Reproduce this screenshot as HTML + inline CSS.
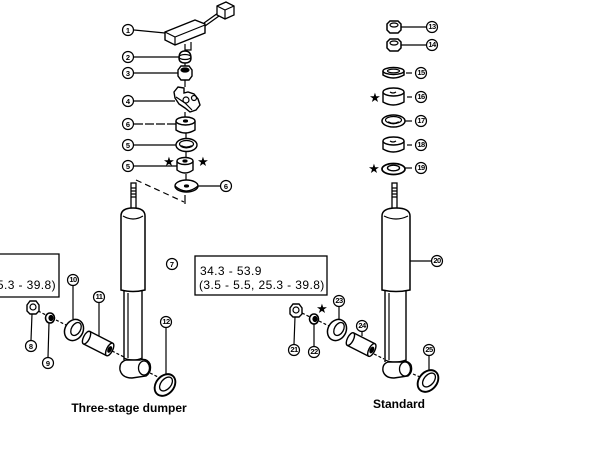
<!DOCTYPE html>
<html><head><meta charset="utf-8"><style>
html,body{margin:0;padding:0;background:#fff;}
svg{display:block;}
text{font-family:"Liberation Sans",sans-serif;fill:#000;}
.c text{font-size:7.5px;font-weight:bold;}
</style></head><body>
<svg width="606" height="459" viewBox="0 0 606 459" xmlns="http://www.w3.org/2000/svg">
<rect width="606" height="459" fill="#fff"/>
<g fill="none" stroke="#000" stroke-width="1.2">

<!-- ===== LEFT TOP STACK ===== -->
<path d="M165,32 L195,20 L205,24 L205,33 L175,45 L165,40 Z" fill="#fff" stroke-width="1.4"/>
<path d="M165,32 L175,37 L205,25 M175,37 L175,45"/>
<path d="M185,44 L185,50 L191,50 L191,42"/>
<path d="M204,23 L218,13 M205,26 L219,16" stroke-width="1.3"/>
<path d="M217,6 L226,2 L234,6 L234,15 L225,19 L217,15 Z" fill="#fff" stroke-width="1.3"/>
<path d="M217,6 L225,10 L234,6 M225,10 L225,19"/>
<line x1="134" y1="30" x2="165" y2="33"/>
<path d="M179,58 Q179,51 185,51 Q191,51 191,58 Q191,63 185,63 Q179,63 179,58 Z" fill="#fff" stroke-width="1.4"/>
<ellipse cx="185" cy="57" rx="6" ry="2.5"/>
<line x1="134" y1="57" x2="179" y2="57"/>
<path d="M178,70 L181,66 L189,66 L192,70 L192,76 L189,80 L181,80 L178,76 Z" fill="#fff" stroke-width="1.4"/>
<ellipse cx="185" cy="70" rx="4" ry="2" fill="#000"/>
<line x1="134" y1="73" x2="178" y2="73"/>
<path d="M174,92 L178,87 L184,88 L184,93 L188,92 L194,94 L198,99 L200,105 L196,110 L190,112 L185,108 L179,104 L175,98 Z" fill="#fff" stroke-width="1.4"/>
<circle cx="186" cy="100" r="3"/>
<circle cx="194" cy="98" r="2.5"/>
<path d="M176,97 L185,103 L192,110"/>
<line x1="134" y1="101" x2="175" y2="101"/>
<path d="M176,121 L176,130 Q185,136 195,130 L195,121" fill="#fff" stroke-width="1.4"/>
<ellipse cx="185.5" cy="121" rx="9.5" ry="4" fill="#fff" stroke-width="1.4"/>
<ellipse cx="185.5" cy="121" rx="2" ry="1" fill="#000"/>
<line x1="134" y1="124" x2="176" y2="124" stroke-dasharray="9,2"/>
<ellipse cx="186.5" cy="145" rx="10.5" ry="6.5" fill="#fff" stroke-width="1.4"/>
<ellipse cx="186.5" cy="144" rx="7" ry="3.5"/>
<path d="M181,146 Q186,149 192,146" stroke-width="2"/>
<line x1="134" y1="145" x2="176" y2="145"/>
<path d="M177,161 L177,170 Q185,176 193,170 L193,161" fill="#fff" stroke-width="1.4"/>
<ellipse cx="185" cy="161" rx="8" ry="3.5" fill="#fff" stroke-width="1.4"/>
<ellipse cx="185" cy="161" rx="2" ry="1" fill="#000"/>
<line x1="134" y1="166" x2="177" y2="166"/>
<ellipse cx="186.5" cy="186" rx="11.5" ry="6" fill="#fff" stroke-width="1.4"/>
<path d="M175,186 Q186,196 198,186"/>
<ellipse cx="186.5" cy="186" rx="2" ry="1" fill="#000"/>
<line x1="198" y1="186" x2="220" y2="186"/>
<line x1="185" y1="63" x2="185" y2="66"/>
<line x1="185" y1="80" x2="185" y2="87"/>
<line x1="185" y1="112" x2="185" y2="117"/>
<line x1="186" y1="133" x2="186" y2="138"/>
<line x1="186" y1="152" x2="186" y2="157"/>
<line x1="186" y1="174" x2="186" y2="180"/>
<path d="M136,180 L184,202" stroke-dasharray="6,4"/>
<line x1="185" y1="195" x2="185" y2="204"/>

<!-- ===== LEFT SHOCK ===== -->
<rect x="131" y="183" width="5" height="27" fill="#fff" stroke-width="1.3"/>
<path d="M131,188 h5 M131,191 h5 M131,194 h5 M131,197 h5"/>
<path d="M121,290 L121,216 Q121,208 133,208 Q145,208 145,216 L145,290 Q133,293 121,290 Z" fill="#fff" stroke-width="1.5"/>
<path d="M123,216 Q133,222 143,216"/>
<line x1="124" y1="291" x2="124" y2="360" stroke-width="1.4"/>
<line x1="142" y1="291" x2="142" y2="360" stroke-width="1.4"/>
<line x1="128" y1="293" x2="128" y2="358"/>
<path d="M124,358 Q133,362 142,358"/>
<path d="M126,360 Q119,362 120,370 Q122,378 132,378 L146,376 Q152,372 150,364 Q147,358 140,360 Z" fill="#fff" stroke-width="1.4"/>
<ellipse cx="144" cy="368" rx="5.5" ry="7" fill="#fff" stroke-width="1.3"/>
<path d="M38,311 L48,316 M56,320 L70,327 M112,351 L124,357 M150,373 L160,378" stroke-dasharray="3,2"/>
<path d="M27,305 L30,301 L36,301 L39,305 L39,311 L36,314 L30,314 L27,311 Z" fill="#fff" stroke-width="1.4"/>
<ellipse cx="33" cy="307" rx="3" ry="3"/>
<line x1="32" y1="314" x2="31" y2="340"/>
<ellipse cx="50" cy="318" rx="4.5" ry="5" fill="#fff" stroke-width="1.6"/>
<ellipse cx="51" cy="318" rx="2" ry="2.5" fill="#000"/>
<line x1="49" y1="323" x2="48" y2="357"/>
<ellipse cx="74" cy="330" rx="9" ry="11" fill="#fff" stroke-width="1.5" transform="rotate(30 74 330)"/>
<ellipse cx="76" cy="329" rx="4.5" ry="7" fill="#fff" stroke-width="1.3" transform="rotate(30 76 329)"/>
<line x1="73" y1="285" x2="73" y2="319"/>
<g transform="translate(99,344) rotate(27)">
<path d="M-14,-7 L12,-7 M-14,7 L12,7" stroke-width="1.4"/>
<ellipse cx="-14" cy="0" rx="3" ry="7" fill="#fff" stroke-width="1.4"/>
<ellipse cx="12" cy="0" rx="3" ry="7" fill="#fff" stroke-width="1.4"/>
<ellipse cx="12" cy="0" rx="1.5" ry="3" fill="#000"/>
</g>
<line x1="99" y1="303" x2="99" y2="336"/>
<ellipse cx="165" cy="385" rx="9" ry="12" fill="#fff" stroke-width="1.9" transform="rotate(40 165 385)"/>
<ellipse cx="166" cy="384" rx="5" ry="8" fill="#fff" stroke-width="1.3" transform="rotate(40 166 384)"/>
<line x1="166" y1="328" x2="166" y2="374"/>
<path d="M-2,254 L59,254 L59,297 L-2,297" stroke-width="1.3"/>

<!-- ===== RIGHT TOP STACK ===== -->
<path d="M387,24 L390,21 L398,21 L401,24 L401,30 L398,33 L390,33 L387,30 Z" fill="#fff" stroke-width="1.5"/>
<ellipse cx="394" cy="25" rx="4" ry="2"/>
<line x1="401" y1="27" x2="426" y2="27"/>
<path d="M387,42 L390,39 L398,39 L401,42 L401,48 L398,51 L390,51 L387,48 Z" fill="#fff" stroke-width="1.5"/>
<ellipse cx="394" cy="43" rx="4" ry="2"/>
<line x1="401" y1="45" x2="426" y2="45"/>
<path d="M383,71 L383,75 Q393,81 404,75 L404,71" fill="#fff" stroke-width="1.5"/>
<ellipse cx="393.5" cy="71" rx="10.5" ry="3.5" fill="#fff" stroke-width="1.5"/>
<ellipse cx="393.5" cy="71" rx="6" ry="1.8"/>
<line x1="406" y1="73" x2="412" y2="73"/>
<path d="M383,92 L383,102 Q393,108 404,102 L404,92" fill="#fff" stroke-width="1.4"/>
<ellipse cx="393.5" cy="92" rx="10.5" ry="4" fill="#fff" stroke-width="1.4"/>
<path d="M390,92 Q393,94 396,92"/>
<line x1="407" y1="97" x2="412" y2="97"/>
<ellipse cx="393.5" cy="121" rx="11.5" ry="6" fill="#fff" stroke-width="1.5"/>
<ellipse cx="393.5" cy="120" rx="8" ry="3.5"/>
<path d="M388,122 Q393,125 399,122" stroke-width="1.8"/>
<line x1="405" y1="121" x2="412" y2="121"/>
<path d="M383,141 L383,149 Q393,155 404,149 L404,141" fill="#fff" stroke-width="1.4"/>
<ellipse cx="393.5" cy="141" rx="10.5" ry="4" fill="#fff" stroke-width="1.4"/>
<path d="M390,141 Q393,143 396,141"/>
<line x1="407" y1="145" x2="412" y2="145"/>
<ellipse cx="393.5" cy="169" rx="11.5" ry="5.5" fill="#fff" stroke-width="1.7"/>
<ellipse cx="393.5" cy="168" rx="6" ry="2.8" stroke-width="1.4"/>
<line x1="405" y1="168" x2="412" y2="168"/>

<!-- ===== RIGHT SHOCK ===== -->
<rect x="392" y="183" width="5" height="27" fill="#fff" stroke-width="1.3"/>
<path d="M392,188 h5 M392,191 h5 M392,194 h5 M392,197 h5"/>
<path d="M382,290 L382,216 Q382,208 396,208 Q410,208 410,216 L410,290 Q396,293 382,290 Z" fill="#fff" stroke-width="1.5"/>
<path d="M384,216 Q396,222 408,216"/>
<line x1="385" y1="291" x2="385" y2="362" stroke-width="1.4"/>
<line x1="406" y1="291" x2="406" y2="362" stroke-width="1.4"/>
<line x1="389" y1="293" x2="389" y2="360"/>
<path d="M385,360 Q395,364 406,360"/>
<path d="M388,362 Q382,364 383,371 Q385,378 394,378 L408,376 Q413,372 411,365 Q408,360 402,362 Z" fill="#fff" stroke-width="1.4"/>
<ellipse cx="405" cy="369" rx="5.5" ry="7" fill="#fff" stroke-width="1.3"/>
<line x1="410" y1="261" x2="431" y2="261"/>
<path d="M302,313 L310,317 M319,321 L329,326 M374,354 L384,359 M413,374 L420,377" stroke-dasharray="3,2"/>
<path d="M290,308 L293,304 L299,304 L302,308 L302,314 L299,317 L293,317 L290,314 Z" fill="#fff" stroke-width="1.4"/>
<ellipse cx="296" cy="310" rx="3" ry="3"/>
<line x1="295" y1="317" x2="294" y2="344"/>
<ellipse cx="314" cy="319" rx="4.5" ry="5" fill="#fff" stroke-width="1.6"/>
<ellipse cx="315" cy="319" rx="2" ry="2.5" fill="#000"/>
<line x1="314" y1="324" x2="314" y2="346"/>
<ellipse cx="337" cy="330" rx="9" ry="11" fill="#fff" stroke-width="1.5" transform="rotate(30 337 330)"/>
<ellipse cx="339" cy="329" rx="4.5" ry="7" fill="#fff" stroke-width="1.3" transform="rotate(30 339 329)"/>
<line x1="339" y1="307" x2="339" y2="319"/>
<g transform="translate(362,345) rotate(27)">
<path d="M-13,-7 L11,-7 M-13,7 L11,7" stroke-width="1.4"/>
<ellipse cx="-13" cy="0" rx="3" ry="7" fill="#fff" stroke-width="1.4"/>
<ellipse cx="11" cy="0" rx="3" ry="7" fill="#fff" stroke-width="1.4"/>
<ellipse cx="11" cy="0" rx="1.5" ry="3" fill="#000"/>
</g>
<line x1="362" y1="332" x2="362" y2="336"/>
<ellipse cx="428" cy="381" rx="9" ry="12" fill="#fff" stroke-width="1.9" transform="rotate(40 428 381)"/>
<ellipse cx="429" cy="380" rx="5" ry="8" fill="#fff" stroke-width="1.3" transform="rotate(40 429 380)"/>
<line x1="429" y1="356" x2="429" y2="370"/>
<rect x="195" y="256" width="132" height="39" stroke-width="1.3"/>
</g>

<!-- stars -->
<g font-size="13" font-family="DejaVu Sans, sans-serif" text-anchor="middle">
<text x="169" y="166">★</text>
<text x="203" y="166">★</text>
<text x="375" y="102">★</text>
<text x="374" y="173">★</text>
<text x="322" y="313">★</text>
</g>

<!-- circled labels -->
<g class="c" text-anchor="middle">
<g fill="#fff" stroke="#000" stroke-width="1.2">
<circle cx="128" cy="30" r="5.5"/><circle cx="128" cy="57" r="5.5"/><circle cx="128" cy="73" r="5.5"/>
<circle cx="128" cy="101" r="5.5"/><circle cx="128" cy="124" r="5.5"/><circle cx="128" cy="145" r="5.5"/>
<circle cx="128" cy="166" r="5.5"/><circle cx="226" cy="186" r="5.5"/>
<circle cx="172" cy="264" r="5.5"/>
<circle cx="31" cy="346" r="5.5"/><circle cx="48" cy="363" r="5.5"/><circle cx="73" cy="280" r="5.5"/>
<circle cx="99" cy="297" r="5.5"/><circle cx="166" cy="322" r="5.5"/>
<circle cx="432" cy="27" r="5.5"/><circle cx="432" cy="45" r="5.5"/>
<circle cx="421" cy="73" r="5.5"/><circle cx="421" cy="97" r="5.5"/><circle cx="421" cy="121" r="5.5"/>
<circle cx="421" cy="145" r="5.5"/><circle cx="421" cy="168" r="5.5"/>
<circle cx="437" cy="261" r="5.5"/>
<circle cx="294" cy="350" r="5.5"/><circle cx="314" cy="352" r="5.5"/><circle cx="339" cy="301" r="5.5"/>
<circle cx="362" cy="326" r="5.5"/><circle cx="429" cy="350" r="5.5"/>
</g>
<text x="128" y="33">1</text><text x="128" y="60">2</text><text x="128" y="76">3</text>
<text x="128" y="104">4</text><text x="128" y="127">6</text><text x="128" y="148">5</text>
<text x="128" y="169">5</text><text x="226" y="189">6</text>
<text x="172" y="267">7</text>
<text x="31" y="349">8</text><text x="48" y="366">9</text>
<g style="font-size:6px;letter-spacing:-0.6px">
<text x="73" y="282">10</text><text x="99" y="299">11</text><text x="166" y="324">12</text>
<text x="432" y="29">13</text><text x="432" y="47">14</text>
<text x="421" y="75">15</text><text x="421" y="99">16</text><text x="421" y="123">17</text>
<text x="421" y="147">18</text><text x="421" y="170">19</text>
<text x="437" y="263">20</text>
<text x="294" y="352">21</text><text x="314" y="354">22</text><text x="339" y="303">23</text>
<text x="362" y="328">24</text><text x="429" y="352">25</text>
</g>
</g>

<!-- box texts -->
<text x="200" y="275" font-size="12" letter-spacing="0.4">34.3 - 53.9</text>
<text x="199" y="289" font-size="12" letter-spacing="0.4">(3.5 - 5.5, 25.3 - 39.8)</text>
<text x="56" y="289" font-size="12" letter-spacing="0.4" text-anchor="end">(3.5 - 5.5, 25.3 - 39.8)</text>

<!-- captions -->
<text x="129" y="412" font-size="12" font-weight="bold" text-anchor="middle">Three-stage dumper</text>
<text x="399" y="408" font-size="12" font-weight="bold" text-anchor="middle">Standard</text>
</svg>
</body></html>
